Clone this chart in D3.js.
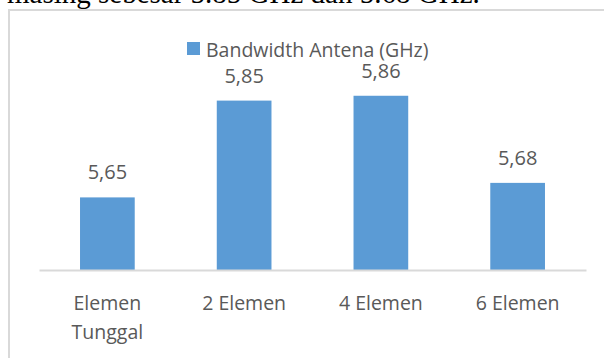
<!DOCTYPE html>
<html>
<head>
<meta charset="utf-8">
<script src="https://cdn.jsdelivr.net/npm/d3@7"></script>
<style>
html,body{margin:0;padding:0;background:#fff;overflow:hidden;}
svg{display:block;}
</style>
</head>
<body>
<svg id="chart" width="604" height="358"></svg>
<script>
const categories = [["Elemen", "Tunggal"], ["2 Elemen"], ["4 Elemen"], ["6 Elemen"]];
const categoryKeys = ["Elemen Tunggal", "2 Elemen", "4 Elemen", "6 Elemen"];
const values = [5.65, 5.85, 5.86, 5.68];
const valueLabels = ["5,65", "5,85", "5,86", "5,68"];
const seriesName = "Bandwidth Antena (GHz)";
const yDomain = [5.5, 6.0];
const captionText = "masing sebesar 5.85 GHz dan 5.68 GHz.";

const svg = d3.select("#chart");
const font = "'Open Sans', sans-serif";
const grey = "#595959";
const barColor = "#5b9bd5";

// caption (cut-off document text above the chart)
svg.append("text")
  .attr("x", 7).attr("y", 3)
  .attr("font-family", "'Liberation Serif', 'Times New Roman', serif")
  .attr("font-size", 29)
  .attr("fill", "#000")
  .text(captionText);

// chart border
svg.append("rect")
  .attr("x", 9).attr("y", 10)
  .attr("width", 640).attr("height", 400)
  .attr("fill", "#fff")
  .attr("stroke", "#d9d9d9").attr("stroke-width", 2);

const x = d3.scaleBand().domain(categoryKeys).range([39, 586]).paddingInner(0.6).paddingOuter(0.3);
const y = d3.scaleLinear().domain(yDomain).range([270, 28]);

const data = categoryKeys.map((k, i) => ({key: k, lines: categories[i], v: values[i], label: valueLabels[i]}));

svg.append("g").selectAll("rect").data(data).join("rect")
  .attr("x", d => x(d.key))
  .attr("y", d => y(d.v))
  .attr("width", x.bandwidth())
  .attr("height", d => y(yDomain[0]) - y(d.v))
  .attr("fill", barColor);

// x axis
const xAxis = d3.axisBottom(x).tickSize(0).tickFormat("");
const gx = svg.append("g").attr("transform", `translate(0,${y(yDomain[0])})`).call(xAxis);
gx.select(".domain").attr("stroke", "#d9d9d9").attr("stroke-width", 2);

// category labels
const lab = svg.append("g").selectAll("text").data(data).join("text")
  .attr("x", d => x(d.key) + x.bandwidth() / 2)
  .attr("y", 310)
  .attr("text-anchor", "middle")
  .attr("font-family", font).attr("font-size", 19.5)
  .attr("fill", grey);
lab.selectAll("tspan").data(d => d.lines.map(l => ({l, cx: x(d.key) + x.bandwidth() / 2}))).join("tspan")
  .attr("x", t => t.cx)
  .attr("dy", (t, i) => i === 0 ? 0 : 29)
  .text(t => t.l);

// value labels
svg.append("g").selectAll("text").data(data).join("text")
  .attr("x", d => x(d.key) + x.bandwidth() / 2)
  .attr("y", d => y(d.v) - 18)
  .attr("text-anchor", "middle")
  .attr("font-family", font).attr("font-size", 20)
  .attr("fill", grey)
  .text(d => d.label);

// legend
const lg = svg.append("g");
lg.append("rect").attr("x", 187).attr("y", 42).attr("width", 13).attr("height", 13).attr("fill", barColor);
lg.append("text").attr("x", 206).attr("y", 56.5)
  .attr("font-family", font).attr("font-size", 19.5)
  .attr("fill", grey).text(seriesName);
</script>
</body>
</html>
